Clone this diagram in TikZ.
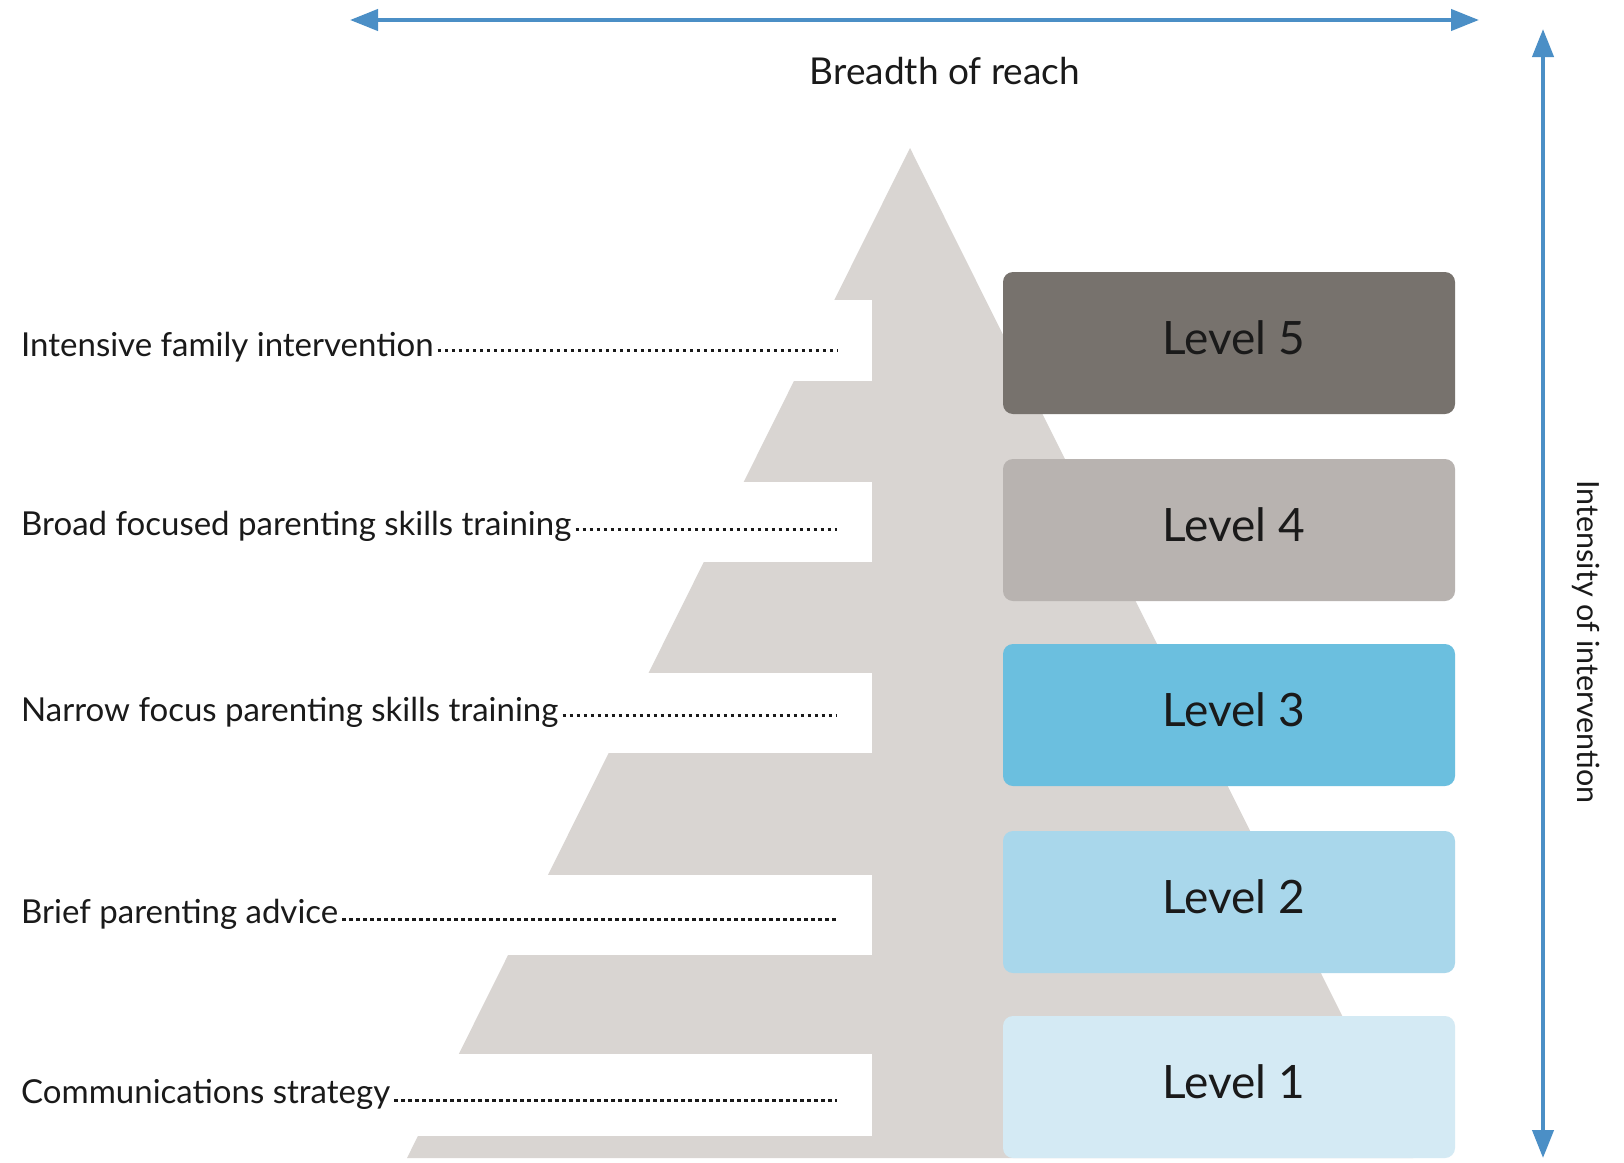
\documentclass[tikz,border=0pt]{standalone}
\usepackage{fontspec}
\setmainfont{Lato}
\usetikzlibrary{arrows.meta}
\definecolor{pyr}{HTML}{D9D5D2}
\definecolor{lvA}{HTML}{D4EAF4}
\definecolor{lvB}{HTML}{A9D7EB}
\definecolor{lvC}{HTML}{6BBFDF}
\definecolor{lvD}{HTML}{B8B3B0}
\definecolor{lvE}{HTML}{77726D}
\definecolor{axis}{HTML}{4B8FC6}
\definecolor{ink}{HTML}{1A1A1A}
\tikzset{
  levelbox/.style={rounded corners=10pt, minimum width=452pt, minimum height=142pt, inner sep=0pt, text height=30pt, text depth=8pt, text=ink, font=\fontsize{46}{50}\selectfont},
  lab/.style={anchor=base west, inner sep=0pt, text=ink, font=\fontsize{33}{36}\selectfont},
  dots/.style={ink, line width=3pt, dash pattern=on 3.5pt off 3.5pt},
  axisarrow/.style={axis, line width=4.2pt, {Triangle[length=28pt,width=21pt]}-{Triangle[length=28pt,width=21pt]}},
}
\newcommand{\lvtext}[1]{\hspace*{9pt}#1}
\begin{document}
\begin{tikzpicture}[x=1pt,y=-1pt]
\useasboundingbox (0,0) rectangle (1624,1162);
\fill[white] (0,0) rectangle (1624,1162);
% pyramid
\fill[pyr] (910,148) -- (1413,1158) -- (407,1158) -- cycle;
\foreach \a/\b in {300/381, 482/562, 673/753, 875/955, 1054/1136}
  \fill[white] (0,\a) rectangle (872,\b);
% level boxes
\node[levelbox, fill=lvE] (L5) at (1229,343) {\lvtext{Level 5}};
\node[levelbox, fill=lvD] (L4) at (1229,530) {\lvtext{Level 4}};
\node[levelbox, fill=lvC] (L3) at (1229,715) {\lvtext{Level 3}};
\node[levelbox, fill=lvB] (L2) at (1229,902) {\lvtext{Level 2}};
\node[levelbox, fill=lvA] (L1) at (1229,1087) {\lvtext{Level 1}};
% labels
\node[lab] (t5) at (21,356) {Intensive family intervention};
\node[lab] (t4) at (21,535) {Broad focused parenting skills training};
\node[lab] (t3) at (21,721) {Narrow focus parenting skills training};
\node[lab] (t2) at (21,923) {Brief parenting advice};
\node[lab] (t1) at (21,1103) {Communications strategy};
\coordinate (e5) at (837,350);
\coordinate (e4) at (837,529);
\coordinate (e3) at (837,715);
\coordinate (e2) at (837,919);
\coordinate (e1) at (837,1100);
\foreach \i in {1,...,5}
  \draw[dots] ([xshift=4pt]t\i.east |- e\i) -- (e\i);
% axes
\coordinate (hl) at (350,20);
\coordinate (hr) at (1479,20);
\coordinate (vt) at (1543,29);
\coordinate (vb) at (1543,1158);
\draw[axisarrow] (hl) -- (hr);
\draw[axisarrow] (vt) -- (vb);
\node[text=ink, font=\fontsize{37}{40}\selectfont, inner sep=0pt] (breadth) at (945,71) {Breadth of reach};
\node[text=ink, font=\fontsize{30.5}{33}\selectfont, inner sep=0pt, rotate=-90] (intens) at (1586,642) {Intensity of intervention};
\end{tikzpicture}
\end{document}
